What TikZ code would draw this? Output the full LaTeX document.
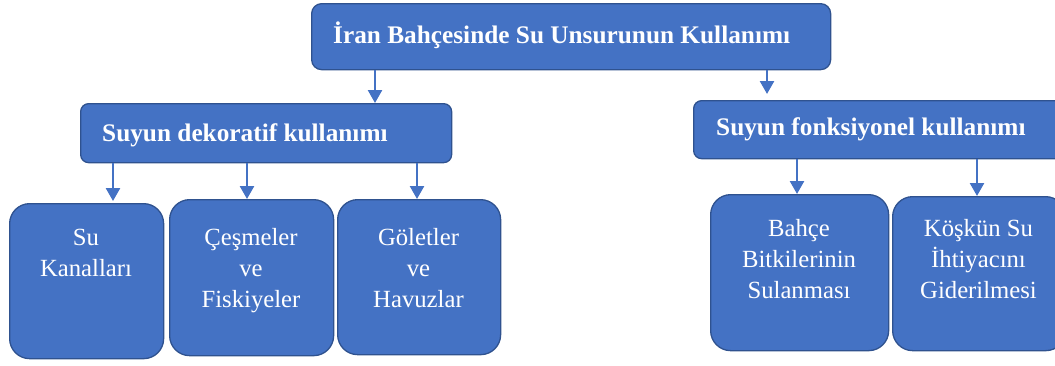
\documentclass[tikz,border=0pt]{standalone}
\usepackage{fontspec}
\setmainfont{Liberation Serif}
\usetikzlibrary{arrows.meta}
\definecolor{boxfill}{HTML}{4472C4}
\definecolor{boxline}{HTML}{2F528F}
\begin{document}
\begin{tikzpicture}[x=1pt,y=-1pt,
  box/.style={draw=boxline, fill=boxfill, line width=1.3pt, rounded corners=8pt, inner sep=0pt, anchor=north west},
  leaf/.style={box, rounded corners=20pt},
  ttl/.style={text=white, font=\fontsize{25.3}{31}\selectfont\bfseries, inner sep=0pt, anchor=base west},
  lbl/.style={text=white, font=\fontsize{24.7}{31}\selectfont, align=center, inner sep=0pt, anchor=north},
  arr/.style={draw=boxfill, line width=2.5pt, -{Triangle[width=14pt,length=13pt]}}]
\useasboundingbox (0,0) rectangle (1055,365);
% boxes
\node[box, rounded corners=10pt, minimum width=519pt, minimum height=66pt] (top) at (311,3) {};
\node[box, minimum width=371pt, minimum height=59pt] (dec) at (80,103) {};
\node[box, minimum width=372pt, minimum height=58pt] (fonk) at (693,100) {};
\node[leaf, minimum width=154pt, minimum height=155pt] (b1) at (9,203) {};
\node[leaf, minimum width=164pt, minimum height=156pt] (b2) at (169,199) {};
\node[leaf, minimum width=163pt, minimum height=155pt] (b3) at (337,199) {};
\node[leaf, minimum width=178pt, minimum height=156pt] (b4) at (710,194) {};
\node[leaf, minimum width=173pt, minimum height=154pt] (b5) at (892,196) {};
% texts
\node[ttl] (topt) at (333,43) {İran Bahçesinde Su Unsurunun Kullanımı};
\node[ttl] (dect) at (102,141.5) {Suyun dekoratif kullanımı};
\node[ttl] (fonkt) at (716,135) {Suyun fonksiyonel kullanımı};
\node[lbl] (t1) at (86,223.3) {\strut Su\\Kanalları};
\node[lbl] (t2) at (251,223.3) {\strut Çeşmeler\\ve\\Fiskiyeler};
\node[lbl] (t3) at (418.5,223.3) {\strut Göletler\\ve\\Havuzlar};
\node[lbl] (t4) at (799,215) {\strut Bahçe\\Bitkilerinin\\Sulanması};
\node[lbl] (t5) at (978.5,215) {\strut Köşkün Su\\İhtiyacını\\Giderilmesi};
% connectors
\coordinate (a1) at (375,0);
\coordinate (a2) at (767,94);
\coordinate (a3) at (113,201);
\coordinate (a4) at (247,0);
\coordinate (a5) at (417,0);
\coordinate (a6) at (797,0);
\coordinate (a7) at (977,0);
\draw[arr] (top.south -| a1) -- (dec.north -| a1);
\draw[arr] (top.south -| a2) -- (a2);
\draw[arr] (dec.south -| a3) -- (a3);
\draw[arr] (dec.south -| a4) -- (b2.north -| a4);
\draw[arr] (dec.south -| a5) -- (b3.north -| a5);
\draw[arr] (fonk.south -| a6) -- (b4.north -| a6);
\draw[arr] (fonk.south -| a7) -- (b5.north -| a7);
\end{tikzpicture}
\end{document}
